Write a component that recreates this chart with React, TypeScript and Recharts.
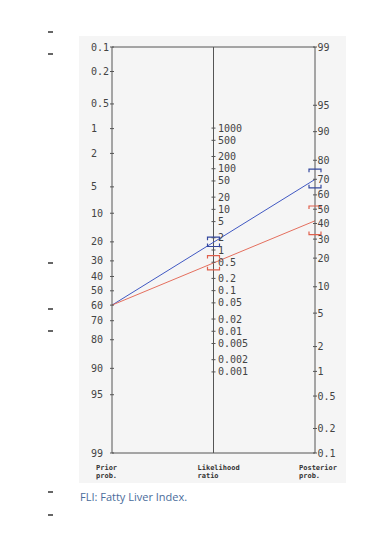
import { ComposedChart, Line, Scatter, XAxis, YAxis, ReferenceLine } from 'recharts'

// Fagan nomogram, prior 60 %
const priorProb = 60
const seriesNames = ['LR+', 'LR-']
const lrValues = [1.55, 0.48]
const lrLower = [1.22, 0.325]
const lrUpper = [2.07, 0.73]
const seriesColors = ['#4058c2', '#e46f5e']
const bracketColors = ['#34489e', '#e0604c']

const probTicks = [0.1, 0.2, 0.5, 1, 2, 5, 10, 20, 30, 40, 50, 60, 70, 80, 90, 95, 99]
const lrTicks = [1000, 500, 200, 100, 50, 20, 10, 5, 2, 1, 0.5, 0.2, 0.1, 0.05, 0.02, 0.01, 0.005, 0.002, 0.001]
const axisNames = [['Prior', 'prob.'], ['Likelihood', 'ratio'], ['Posterior', 'prob.']]

const dashRows = [31, 53, 262, 308, 330, 491, 514]

const logit = (p: number) => Math.log(p / (100 - p))
const TOP = logit(0.1)
const BOTTOM = logit(99)
const leftV = (p: number) => logit(p)
const rightV = (p: number) => -logit(p) + TOP + BOTTOM
const midV = (lr: number) => (-Math.log(lr) + TOP + BOTTOM) / 2
const postProb = (lr: number) => {
  const o = (priorProb / (100 - priorProb)) * lr
  return (100 * o) / (1 + o)
}

const AXIS = '#555'
const TICK_FONT = 'DejaVu Sans Mono, monospace'

const lineData = lrValues.map((lr) => [
  { x: 0, v: leftV(priorProb) },
  { x: 2, v: rightV(postProb(lr)) },
])

const bracketData = lrValues.map((_, i) => [
  { x: 1, v: midV(lrUpper[i]), dir: 1 },
  { x: 1, v: midV(lrLower[i]), dir: -1 },
  { x: 2, v: rightV(postProb(lrUpper[i])), dir: 1 },
  { x: 2, v: rightV(postProb(lrLower[i])), dir: -1 },
])

const midTickData = lrTicks.map((lr) => ({ x: 1, v: midV(lr), label: String(lr) }))

function LeftTick({ x, y, index }: any) {
  return (
    <g>
      <line x1={x - 2} x2={x + 2} y1={y} y2={y} stroke={AXIS} />
      <text x={x - 21} y={y} dy="0.35em" textAnchor="start" fontSize={10} fontFamily={TICK_FONT} fill="#444">
        {String(probTicks[index])}
      </text>
    </g>
  )
}

function RightTick({ x, y, index }: any) {
  return (
    <g>
      <line x1={x - 2} x2={x + 2} y1={y} y2={y} stroke={AXIS} />
      <text x={x + 2.5} y={y} dy="0.35em" textAnchor="start" fontSize={10} fontFamily={TICK_FONT} fill="#444">
        {String(probTicks[index])}
      </text>
    </g>
  )
}

function MidTick({ cx, cy, payload }: any) {
  return (
    <g>
      <line x1={cx - 2} x2={cx + 2} y1={cy} y2={cy} stroke={AXIS} />
      <text x={cx + 4.5} y={cy} dy="0.35em" textAnchor="start" fontSize={10} fontFamily={TICK_FONT} fill="#444">
        {payload.label}
      </text>
    </g>
  )
}

function NameTick({ x, y, index }: any) {
  const [a, b] = axisNames[index]
  return (
    <g fontSize={7} fontFamily={TICK_FONT} fill="#333" fontWeight="bold">
      <text x={x - 16} y={y + 17}>{a}</text>
      <text x={x - 16} y={y + 25}>{b}</text>
    </g>
  )
}

const makeBracket = (color: string) => ({ cx, cy, payload }: any) => {
  const h = 3 * payload.dir
  return (
    <path
      d={`M${cx - 6},${cy + h} L${cx - 6},${cy} L${cx + 6},${cy} L${cx + 6},${cy + h}`}
      fill="none"
      stroke={color}
      strokeWidth={1.2}
    />
  )
}

export default function App() {
  return (
    <div style={{ position: 'absolute', left: 0, top: 0, width: 377, height: 560, background: '#fff' }}>
      <div style={{ position: 'absolute', left: 79, top: 36, width: 267, height: 447, background: '#f5f5f5' }} />
      {dashRows.map((y) => (
        <div key={y} style={{ position: 'absolute', left: 48, top: y, width: 5, height: 2, background: '#666' }} />
      ))}
      <div style={{ position: 'absolute', left: 0, top: 0 }}>
        <ComposedChart width={377} height={560} margin={{ top: 47, right: 0, bottom: 77, left: 0 }}>
          <XAxis
            dataKey="x"
            type="number"
            domain={[0, 2]}
            ticks={[0, 1, 2]}
            interval={0}
            height={30}
            tickSize={0}
            tickMargin={0}
            tick={<NameTick />}
            axisLine={{ stroke: AXIS }}
            tickLine={false}
          />
          <YAxis
            yAxisId="left"
            type="number"
            domain={[TOP, BOTTOM]}
            reversed
            allowDataOverflow
            ticks={probTicks.map(leftV)}
            interval={0}
            width={112}
            tickSize={0}
            tickMargin={0}
            tick={<LeftTick />}
            tickLine={false}
            axisLine={{ stroke: AXIS }}
          />
          <YAxis
            yAxisId="right"
            orientation="right"
            type="number"
            domain={[TOP, BOTTOM]}
            reversed
            allowDataOverflow
            ticks={probTicks.map(rightV)}
            interval={0}
            width={62}
            tickSize={0}
            tickMargin={0}
            tick={<RightTick />}
            tickLine={false}
            axisLine={{ stroke: AXIS }}
          />
          <ReferenceLine yAxisId="left" y={TOP} stroke={AXIS} />
          <ReferenceLine yAxisId="left" x={1} stroke={AXIS} />
          <Scatter yAxisId="left" data={midTickData} dataKey="v" shape={<MidTick />} isAnimationActive={false} />
          {lineData.map((d, i) => (
            <Line
              key={seriesNames[i]}
              yAxisId="left"
              data={d}
              dataKey="v"
              stroke={seriesColors[i]}
              strokeWidth={1}
              dot={false}
              activeDot={false}
              isAnimationActive={false}
            />
          ))}
          {bracketData.map((d, i) => (
            <Scatter
              key={'ci' + seriesNames[i]}
              yAxisId="left"
              data={d}
              dataKey="v"
              shape={makeBracket(bracketColors[i])}
              isAnimationActive={false}
            />
          ))}
        </ComposedChart>
      </div>
      <div
        style={{
          position: 'absolute',
          left: 80,
          top: 489,
          fontFamily: 'Open Sans, sans-serif',
          fontSize: 11,
          lineHeight: '15px',
          color: '#4a6c9b',
        }}
      >
        FLI: Fatty Liver Index.
      </div>
    </div>
  )
}
